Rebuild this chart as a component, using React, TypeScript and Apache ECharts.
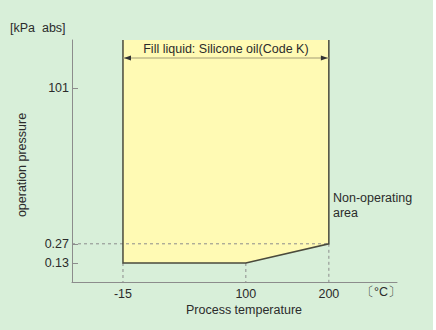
import { useEffect, useRef } from "react";
import * as echarts from "echarts";

// Data
const tempTicks = [-15, 100, 200];
const tempSegmentWeights = [1.48, 1]; // schematic (non-linear) spacing of the temperature axis
const pressureTicks = [0.13, 0.27, 101];
const lowerTemp = [-15, 100, 200];
const lowerPressure = [0.13, 0.13, 0.27];
const guidePressure = 0.27;

const X_MIN = -0.614;
const X_MAX = 3.301;
const Y_MIN = -1.2;
const Y_MAX = 2.8;

const FONT = "'Liberation Sans', Arial, sans-serif";
const FS = 12.5;
const TXT = "#2b2b2b";

const stops: number[] = [0];
tempSegmentWeights.forEach((w, i) => stops.push(stops[i] + w));

function tx(t: number): number {
  for (let i = 0; i < tempTicks.length - 1; i++) {
    const a = tempTicks[i], b = tempTicks[i + 1];
    if (t <= b || i === tempTicks.length - 2) {
      return stops[i] + ((t - a) / (b - a)) * (stops[i + 1] - stops[i]);
    }
  }
  return 0;
}
const ly = (p: number) => Math.log10(p);

export default function App() {
  const ref = useRef<HTMLDivElement>(null);
  useEffect(() => {
    document.body.style.margin = "0";
    const chart = echarts.init(ref.current!, null, { renderer: "svg" });
    const option: any = {
      animation: false,
      backgroundColor: "#d8efd9",
      textStyle: { fontFamily: FONT },
      grid: { left: 72, top: 40, width: 325, height: 242 },
      xAxis: {
        type: "value",
        min: X_MIN,
        max: X_MAX,
        splitLine: { show: false },
        axisLine: { onZero: false, lineStyle: { color: "#8c8c8c", width: 1 } },
        axisTick: { show: false },
        axisLabel: {
          customValues: tempTicks.map(tx),
          formatter: (v: number) => {
            const i = tempTicks.findIndex((t) => Math.abs(tx(t) - v) < 1e-6);
            return i >= 0 ? String(tempTicks[i]) : "";
          },
          color: TXT,
          fontSize: FS,
          fontFamily: FONT,
          margin: 5,
        },
      },
      yAxis: {
        type: "value",
        min: Y_MIN,
        max: Y_MAX,
        splitLine: { show: false },
        axisLine: { show: true, onZero: false, lineStyle: { color: "#8c8c8c", width: 1 } },
        axisTick: {
          show: true,
          inside: true,
          length: 6,
          customValues: pressureTicks.map(ly),
          lineStyle: { color: "#8c8c8c" },
        },
        axisLabel: {
          customValues: pressureTicks.map(ly),
          formatter: (v: number) => {
            const i = pressureTicks.findIndex((p) => Math.abs(ly(p) - v) < 1e-6);
            return i >= 0 ? String(pressureTicks[i]) : "";
          },
          color: TXT,
          fontSize: FS,
          fontFamily: FONT,
          margin: 3,
        },
      },
      series: [
        {
          type: "custom",
          coordinateSystem: "cartesian2d",
          clip: false,
          data: [[0, 0]],
          renderItem: (_params: any, api: any) => {
            const c = (t: number, p: number) => api.coord([tx(t), ly(p)]);
            const top = api.coord([0, Y_MAX])[1];
            const bottom = api.coord([0, Y_MIN])[1];
            const leftX = api.coord([X_MIN, 0])[0];
            const lower = lowerTemp.map((t, i) => c(t, lowerPressure[i]));
            const xL = lower[0][0];
            const xR = lower[lower.length - 1][0];
            const outline = [[xL, top], ...lower, [xR, top]];
            const gy = c(lowerTemp[0], guidePressure)[1];
            const dash = { stroke: "#8c8c8c", lineWidth: 1, lineDash: [3, 3], fill: null };
            const children: any[] = [
              { type: "polygon", shape: { points: outline }, style: { fill: "#fffab4", stroke: null } },
              { type: "line", shape: { x1: leftX, y1: gy, x2: xR, y2: gy }, style: dash },
            ];
            lower.forEach((pt: number[]) => {
              children.push({ type: "line", shape: { x1: pt[0], y1: pt[1], x2: pt[0], y2: bottom }, style: dash });
            });
            children.push({
              type: "polyline",
              shape: { points: outline },
              style: { stroke: "#4a4a3c", lineWidth: 1.5, fill: null },
            });
            const ay = top + 18;
            children.push({
              type: "line",
              shape: { x1: xL, y1: ay, x2: xR, y2: ay },
              style: { stroke: "#a39c74", lineWidth: 1 },
            });
            children.push({
              type: "polygon",
              shape: { points: [[xL + 1, ay], [xL + 8, ay - 2.5], [xL + 8, ay + 2.5]] },
              style: { fill: "#333" },
            });
            children.push({
              type: "polygon",
              shape: { points: [[xR - 1, ay], [xR - 8, ay - 2.5], [xR - 8, ay + 2.5]] },
              style: { fill: "#333" },
            });
            children.push({
              type: "text",
              x: (xL + xR) / 2,
              y: top + 9,
              style: {
                text: "Fill liquid: Silicone oil(Code K)",
                fill: TXT,
                font: `${FS}px ${FONT}`,
                textAlign: "center",
                textVerticalAlign: "middle",
              },
            });
            return { type: "group", children };
          },
        },
      ],
      graphic: [
        {
          type: "text",
          left: 10,
          top: 21,
          style: { text: "[kPa  abs]", fill: TXT, font: `${FS}px ${FONT}` },
        },
        {
          type: "text",
          x: 22,
          y: 165,
          rotation: Math.PI / 2,
          style: {
            text: "operation pressure",
            fill: TXT,
            font: `${FS}px ${FONT}`,
            textAlign: "center",
            textVerticalAlign: "middle",
          },
        },
        {
          type: "text",
          x: 228,
          y: 144,
          style: {
            text: "Operating area",
            fill: TXT,
            font: `${FS}px ${FONT}`,
            textAlign: "center",
            textVerticalAlign: "middle",
          },
        },
        {
          type: "text",
          x: 333,
          y: 190,
          style: {
            text: "Non-operating\narea",
            fill: TXT,
            font: `${FS}px ${FONT}`,
            lineHeight: 15,
            textAlign: "left",
            textVerticalAlign: "top",
          },
        },
        {
          type: "text",
          x: 244,
          y: 310,
          style: {
            text: "Process temperature",
            fill: TXT,
            font: `${FS}px ${FONT}`,
            textAlign: "center",
            textVerticalAlign: "middle",
          },
        },
        {
          type: "text",
          x: 361,
          y: 292,
          style: {
            text: "〔°C〕",
            fill: TXT,
            font: `${FS}px ${FONT}`,
            textAlign: "left",
            textVerticalAlign: "middle",
          },
        },
      ],
    };
    chart.setOption(option);
    return () => chart.dispose();
  }, []);
  return (
    <div style={{ position: "absolute", left: 0, top: 0, width: 436, height: 330, background: "#fff" }}>
      <div ref={ref} style={{ width: 433, height: 330 }} />
    </div>
  );
}
